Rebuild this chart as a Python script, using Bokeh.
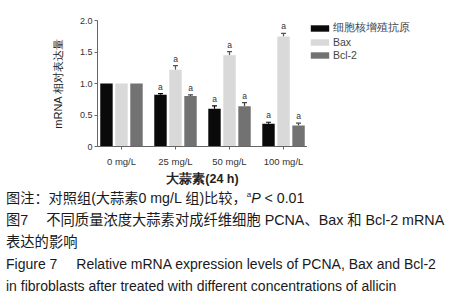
from bokeh.plotting import figure
from bokeh.models import (Range1d, FixedTicker, ColumnDataSource, Whisker, TeeHead,
                          Legend, LegendItem, Div)
from bokeh.layouts import column, row
from bokeh.embed import file_html
from bokeh.resources import INLINE
from bokeh.transform import dodge

# ---- data ----
categories = ["0 mg/L", "25 mg/L", "50 mg/L", "100 mg/L"]
series_names = ["细胞核增殖抗原", "Bax", "Bcl-2"]
pcna = [1.00, 0.82, 0.60, 0.36]
pcna_err = [0.0, 0.02, 0.045, 0.025]
bax = [1.00, 1.22, 1.45, 1.745]
bax_err = [0.0, 0.065, 0.055, 0.05]
bcl2 = [1.00, 0.80, 0.64, 0.335]
bcl2_err = [0.0, 0.02, 0.055, 0.035]
sig = ["", "a", "a", "a"]
y_ticks = [0, 0.5, 1.0, 1.5, 2.0]
y_tick_labels = ["0", "0.5", "1.0", "1.5", "2.0"]

colors = ["#0a0a0a", "#d9d9d9", "#727272"]
err_colors = ["#0a0a0a", "#555555", "#444444"]
offsets = [-0.278, 0.0, 0.278]
LATIN = "Liberation Sans"

p = figure(width=307, height=188, x_range=Range1d(-0.444, 3.444), y_range=Range1d(0, 2.0),
           output_backend="svg", toolbar_location=None,
           min_border_left=97, min_border_right=0, min_border_top=20, min_border_bottom=37)
p.outline_line_color = None
p.xgrid.visible = False
p.ygrid.visible = False
p.background_fill_color = "white"
p.border_fill_color = "white"

# legend panel to the right of the plot (its renderers share the data but stay hidden)
lf = figure(width=145, height=188, x_range=Range1d(-0.444, 3.444), y_range=Range1d(0, 2.0),
            output_backend="svg", toolbar_location=None,
            x_axis_location=None, y_axis_location=None,
            min_border_left=0, min_border_right=0, min_border_top=0, min_border_bottom=0)
lf.outline_line_color = None
lf.xgrid.visible = False
lf.ygrid.visible = False
lf.background_fill_color = "white"
lf.border_fill_color = "white"

items = []
xs = list(range(len(categories)))
for name, vals, errs, col, ecol, off in zip(series_names, [pcna, bax, bcl2],
                                            [pcna_err, bax_err, bcl2_err],
                                            colors, err_colors, offsets):
    up = [v + e for v, e in zip(vals, errs)]
    src = ColumnDataSource(dict(x=xs, v=vals, up=up, sig=sig))
    p.vbar(x=dodge("x", off), top="v", width=0.23, source=src,
           fill_color=col, line_color=None)
    lr = lf.vbar(x=dodge("x", off), top="v", width=0.23, source=src,
                 fill_color=col, line_color=None, visible=False)
    items.append(LegendItem(label=name, renderers=[lr]))
    idx = [i for i, e in enumerate(errs) if e > 0]
    wsrc = ColumnDataSource(dict(x=[xs[i] for i in idx], v=[vals[i] for i in idx],
                                 up=[up[i] for i in idx]))
    w = Whisker(source=wsrc, base=dodge("x", off), lower="v", upper="up",
                line_color=ecol, line_width=1.2,
                upper_head=TeeHead(size=5, line_color=ecol, line_width=1.2), lower_head=None)
    p.add_layout(w)
    p.text(x=dodge("x", off), y="up", text="sig", source=src, text_align="center",
           text_baseline="bottom", y_offset=-2, text_font_size="8.5px",
           text_color="#333333", text_font={"value": LATIN})

legend = Legend(items=items, location="top_left", orientation="vertical",
                glyph_width=23, glyph_height=8, label_height=13, spacing=0,
                padding=10, margin=1, border_line_color=None, background_fill_alpha=0,
                inactive_fill_alpha=0,
                label_text_font_size="10.5px", label_standoff=2,
                label_text_color="#444444", label_text_font=LATIN)
lf.add_layout(legend)

for ax in (p.xaxis[0], p.yaxis[0]):
    ax.axis_line_color = "#666666"
    ax.major_tick_line_color = "#666666"
    ax.minor_tick_line_color = None
    ax.major_tick_in = 0
    ax.major_tick_out = 3
    ax.major_label_text_color = "#333333"
    ax.major_label_text_font = LATIN
    ax.axis_label_text_font = LATIN
    ax.axis_label_text_color = "#222222"

p.xaxis.ticker = FixedTicker(ticks=xs)
p.xaxis.major_label_overrides = {i: c for i, c in enumerate(categories)}
p.xaxis.major_label_text_font_size = "9.5px"
p.xaxis.major_label_standoff = 6
p.xaxis.axis_label = "大蒜素(24 h)"
p.xaxis.axis_label_text_font_size = "12.5px"
p.xaxis.axis_label_text_font_style = "bold"
p.xaxis.axis_label_standoff = 2

p.yaxis.ticker = FixedTicker(ticks=y_ticks)
p.yaxis.major_label_overrides = {t: l for t, l in zip(y_ticks, y_tick_labels)}
p.yaxis.major_label_text_font_size = "9px"
p.yaxis.major_label_standoff = 2
p.yaxis.axis_label = "mRNA 相对表达量"
p.yaxis.axis_label_text_font_size = "11px"
p.yaxis.axis_label_text_font_style = "normal"
p.yaxis.axis_label_standoff = 13

caption_lines = [
    ("图注：对照组(大蒜素0 mg/L 组)比较，<sup style='font-size:8px;line-height:0'>a</sup><i>P</i> &lt; 0.01", 0, "14.2px"),
    ("图7<span style='display:inline-block;width:18px'></span>不同质量浓度大蒜素对成纤维细胞 PCNA、Bax 和 Bcl-2 mRNA", 21.7, "14.3px"),
    ("表达的影响", 44.2, "14.3px"),
    ("Figure 7<span style='display:inline-block;width:19px'></span>Relative mRNA expression levels of PCNA, Bax and Bcl-2", 66.2, "14px"),
    ("in fibroblasts after treated with different concentrations of allicin", 88.2, "14px"),
]
html = "<div style=\"position:relative;height:110px;\">" + "".join(
    f"<div style=\"position:absolute;left:0;top:{t}px;height:20px;line-height:20px;"
    f"font-size:{fs};white-space:nowrap;\">{txt}</div>"
    for txt, t, fs in caption_lines) + "</div>"
cap = Div(text=html, width=452, height=110, margin=0,
          styles={"font-family": "'Liberation Sans', 'Noto Sans CJK SC', sans-serif",
                  "color": "#1a1a1a", "padding-left": "6px"})

layout = column(row(p, lf, spacing=0), cap, spacing=0)
open("out.html", "w").write(file_html(layout, INLINE))
